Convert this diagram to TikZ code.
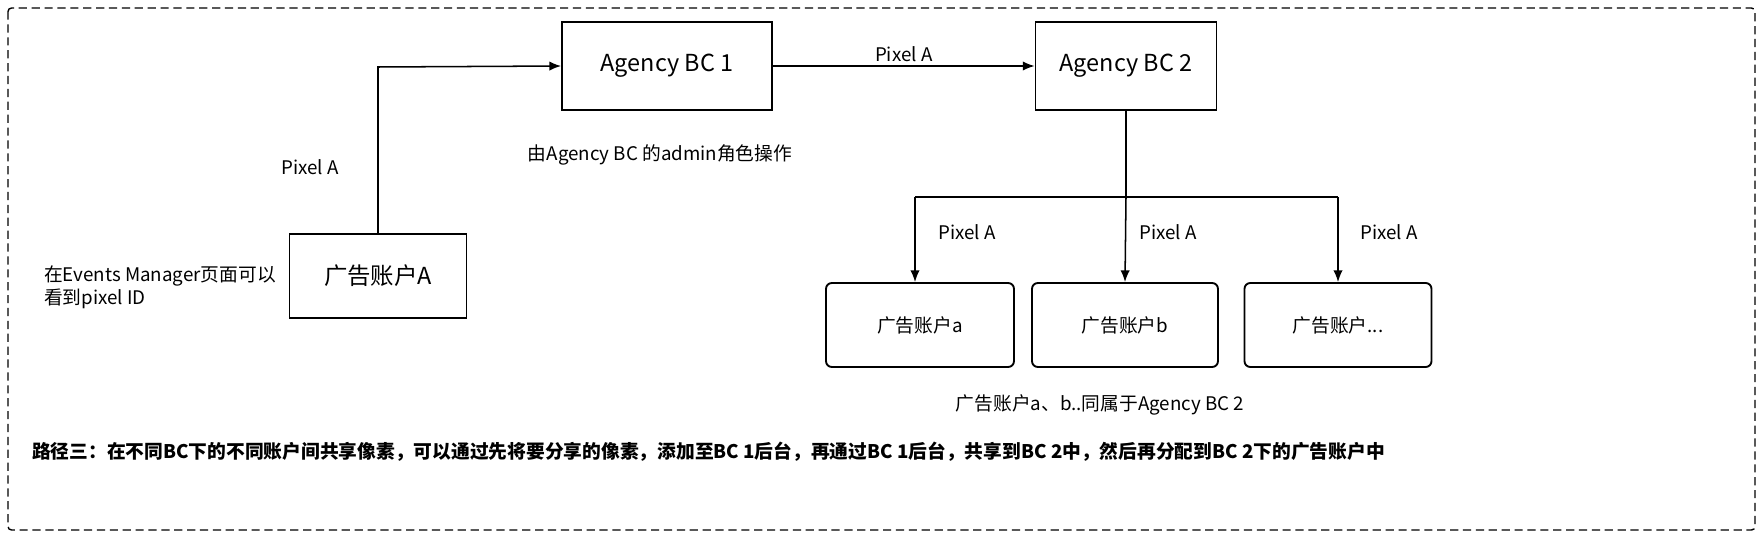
\documentclass[tikz,border=0pt]{standalone}
\usepackage{fontspec}
\setmainfont{Noto Sans CJK SC}
\usetikzlibrary{positioning,arrows.meta}

\tikzset{
	bigbox/.style={draw, line width=1.6pt, minimum width=210*0.03cm, minimum height=88*0.03cm, font=\fontsize{20}{24}\selectfont},
	subbox/.style={draw, line width=1.6pt, rounded corners=5pt, minimum width=188*0.03cm, minimum height=84*0.03cm, font=\fontsize{16}{20}\selectfont},
	lbl/.style={font=\fontsize{16}{20}\selectfont},
	arr/.style={line width=1.3pt, -{Latex[length=10pt,width=8pt]}}
}

\begin{document}
\begin{tikzpicture}[x=0.03cm, y=-0.03cm]
	\useasboundingbox (0,0) rectangle (1763,537);
	\draw[dash pattern=on 7pt off 4pt, line width=1.2pt, rounded corners=3pt] (8,8) rectangle (1755,530);

	\node[bigbox] (bc1) at (667,66) {Agency BC 1};
	\node[bigbox, minimum width=181*0.03cm] (bc2) at (1126,66) {Agency BC 2};
	\node[bigbox, minimum width=177*0.03cm, minimum height=84*0.03cm] (accA) at (378,276) {广告账户A};

	\node[subbox] (acca) at (920,325) {广告账户a};
	\node[subbox, minimum width=186*0.03cm] (accb) at (1125,325) {广告账户b};
	\node[subbox, minimum width=187*0.03cm] (accx) at (1338,325) {广告账户...};

	% connectors
	\coordinate (turn) at (378,67);
	\draw[arr] (accA.north) -- (turn) -- (bc1.west);
	\draw[arr] (bc1.east) -- (bc2.west) node[lbl, midway, above] {Pixel A};
	\coordinate (split) at (1126,197);
	\coordinate (splitL) at (915,197);
	\coordinate (splitR) at (1338,197);
	\draw[line width=1.3pt] (bc2.south) -- (split);
	\draw[line width=1.3pt] (splitL) -- (splitR);
	\draw[arr] (splitL) -- (splitL |- acca.north);
	\draw[arr] (split) -- (accb.north);
	\draw[arr] (splitR) -- (accx.north);

	% labels
	\node[lbl] (pA) at (310,167) {Pixel A};
	\node[lbl] (pa) at (967,232) {Pixel A};
	\node[lbl] (pb) at (1168,232) {Pixel A};
	\node[lbl] (px) at (1389,232) {Pixel A};
	\node[lbl] (admin) at (660,155) {由Agency BC 的admin角色操作};
	\node[lbl, align=left] (ev) at (160,287) {在Events Manager页面可以\\看到pixel ID};
	\node[lbl] (same) at (1100,405) {广告账户a、b..同属于Agency BC 2};
	\node[font=\fontsize{16}{20}\selectfont\bfseries, anchor=west] (path) at (28,452) {路径三：在不同BC下的不同账户间共享像素，可以通过先将要分享的像素，添加至BC 1后台，再通过BC 1后台，共享到BC 2中，然后再分配到BC 2下的广告账户中};
\end{tikzpicture}
\end{document}
